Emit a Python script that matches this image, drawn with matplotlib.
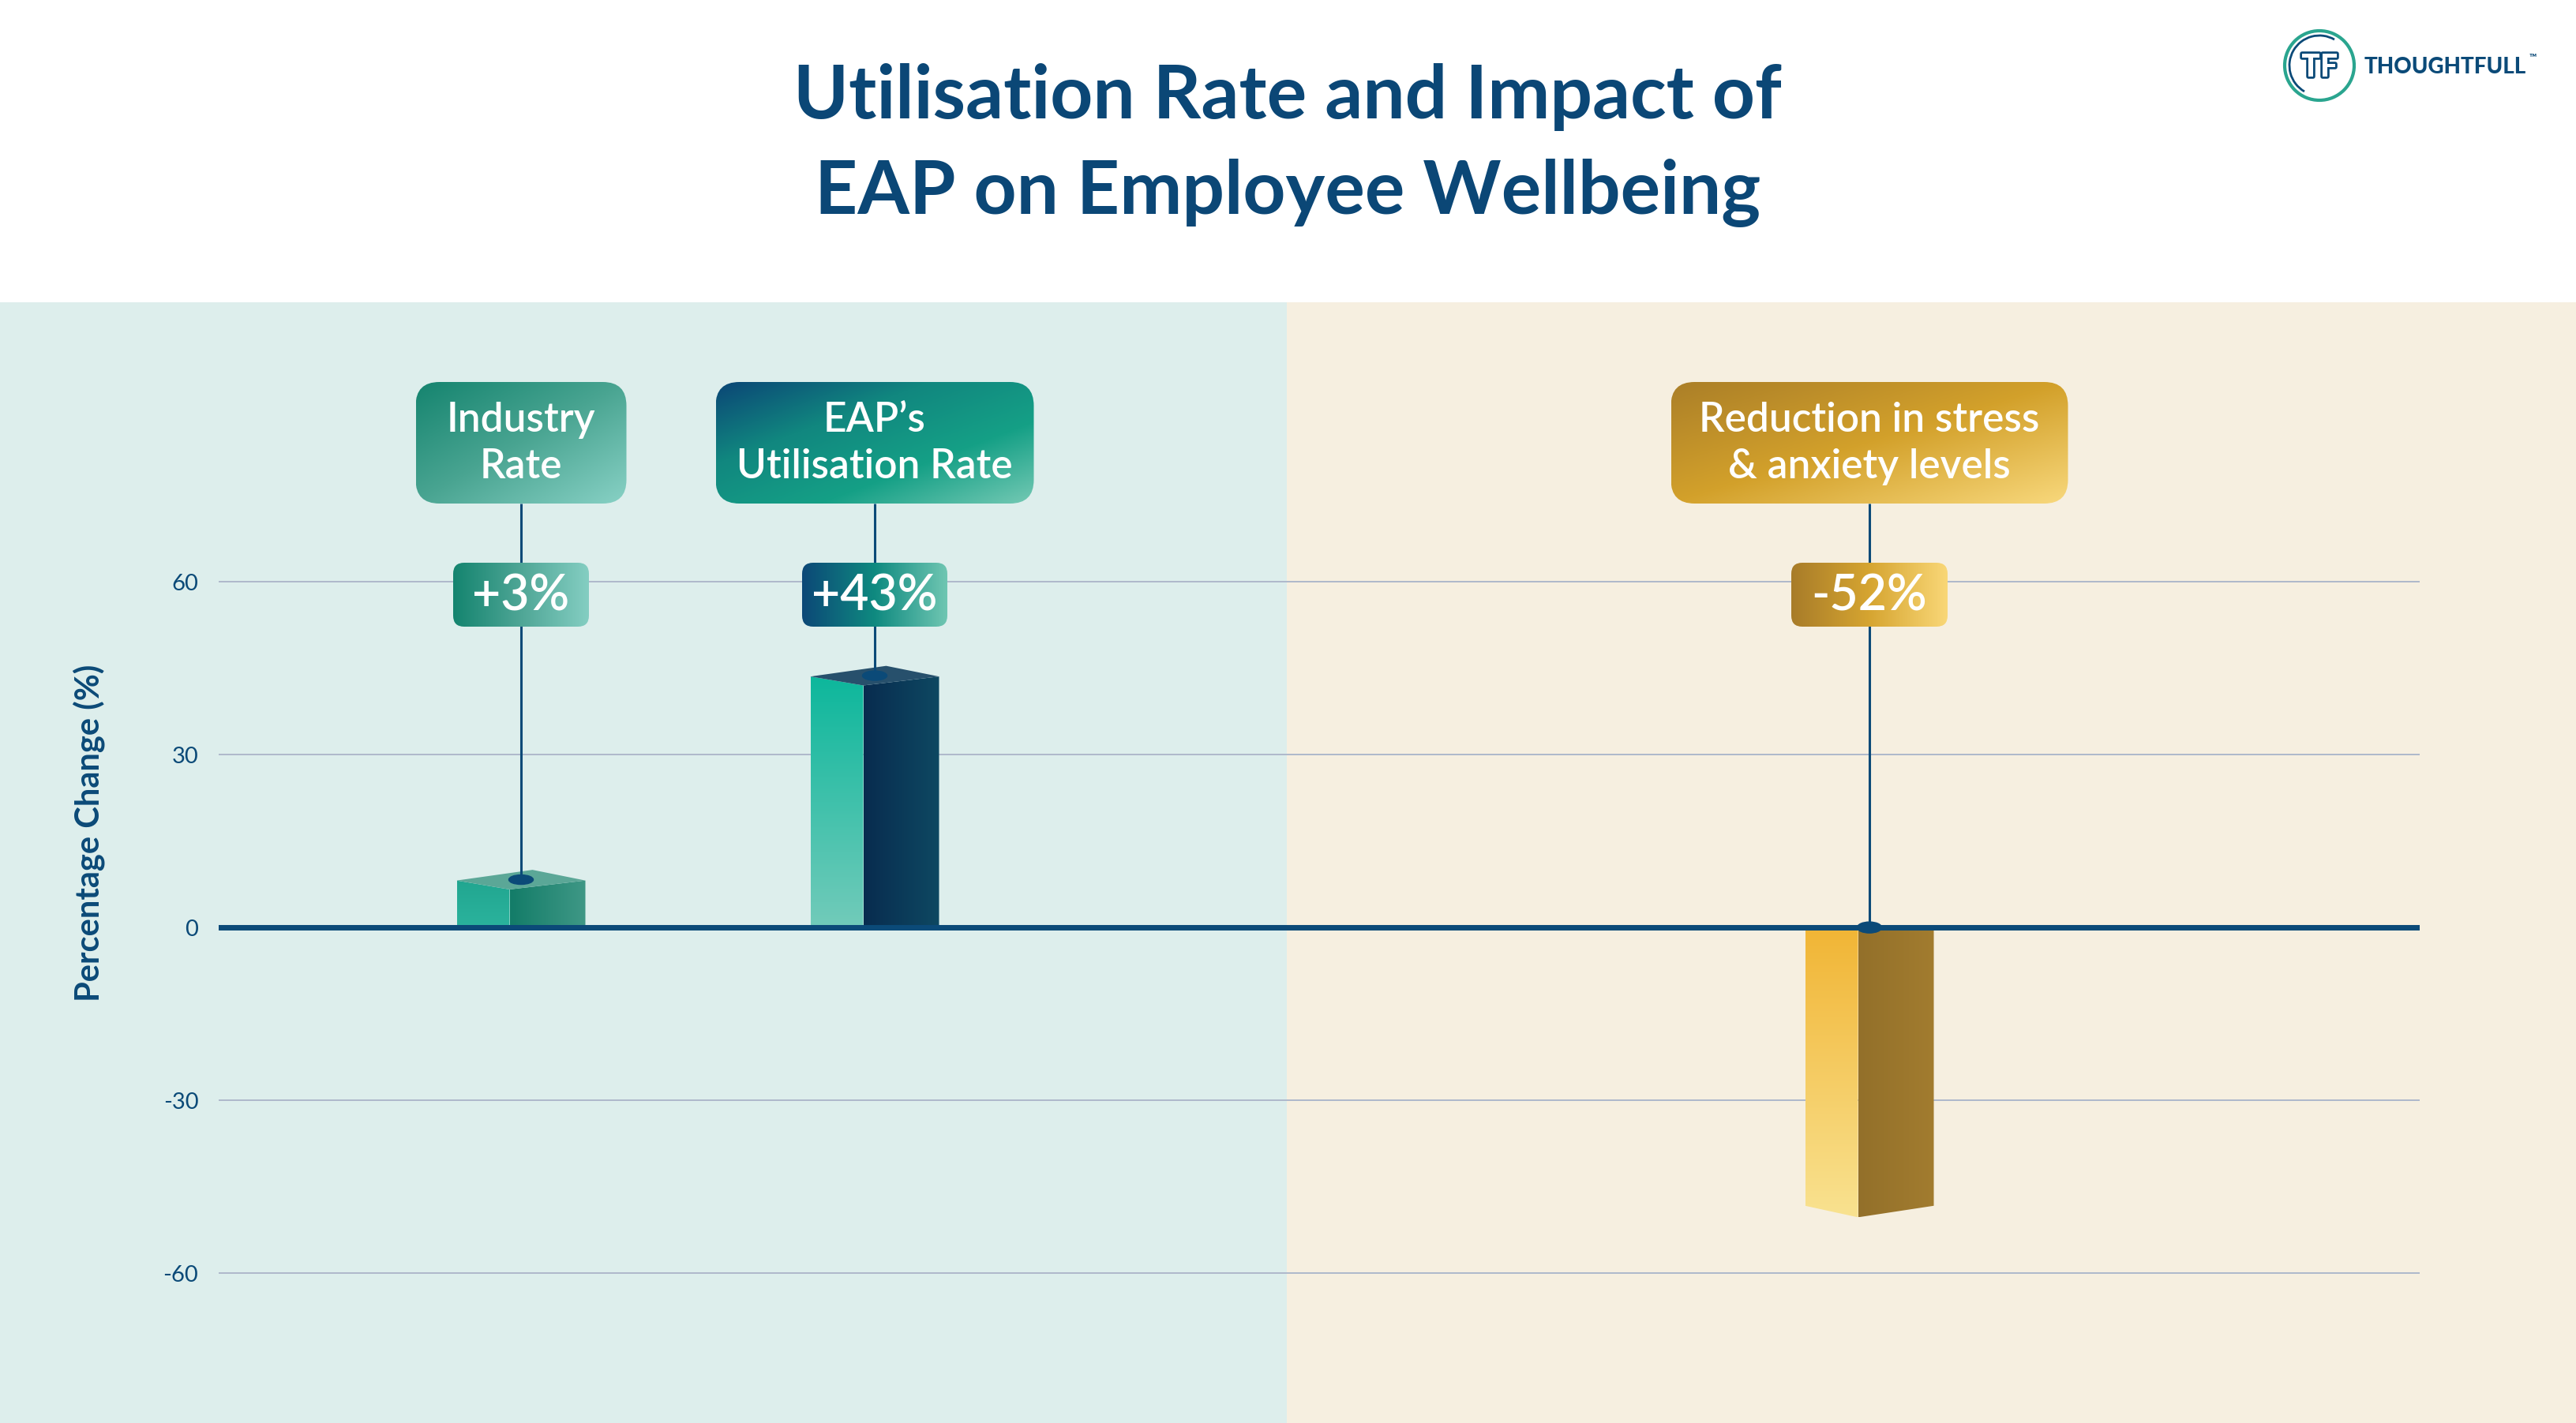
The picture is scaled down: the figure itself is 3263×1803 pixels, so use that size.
import numpy as np
import matplotlib.pyplot as plt
from matplotlib.patches import Polygon, FancyBboxPatch, Rectangle, Ellipse, Arc
from matplotlib.colors import LinearSegmentedColormap
import matplotlib.patheffects as pe

plt.rcParams['font.family'] = ['Lato', 'DejaVu Sans']

# === Chart data ===
title_lines = ['Utilisation Rate and Impact of', 'EAP on Employee Wellbeing']
categories = ['Industry\nRate', 'EAP\u2019s\nUtilisation Rate', 'Reduction in stress\n& anxiety levels']
value_labels = ['+3%', '+43%', '-52%']
bar_heights = [6.6, 42, -50.3]   # heights of the boxes as drawn in the picture
y_ticks = [-60, -30, 0, 30, 60]
y_label = 'Percentage Change (%)'
brand = 'THOUGHTFULL'

# === Layout (pixels of the 3263 x 1803 canvas) ===
W, H, DPI = 3263, 1803, 100
NAVY = '#0b4a78'
panel_top, panel_split = 383, 1630
ax_left, ax_right = 277, 3065
y_lo, y_hi = -86, 108.5
bar_x = [3.83, 8.31, 20.91]          # axis units, 1 unit = 100 px
half_w, front_off, back_off = 0.815, -0.145, 0.145
box_w = [267, 403, 503]
vbox_w = [172, 184, 198]
box_top, box_bot = 484, 638
vbox_top, vbox_bot = 713, 794

styles = [
    dict(left=['#21a690', '#2bb39d'], right=['#137c68', '#3f9886'], top='#5ba797',
         box=['#15846f', '#4aa592', '#88d1c5'], vbox=['#14846f', '#4fa696', '#84cec2']),
    dict(left=['#0db79c', '#72cbba'], right=['#082c4f', '#0e4862'], top='#27506c',
         box=['#0b4676', '#11877f', '#15a086', '#74c9b4'], vbox=['#0c4877', '#0f8a80', '#6fc6b2']),
    dict(left=['#f1b535', '#f9e290'], right=['#93702a', '#a27c2f'], top=None,
         box=['#ab7f28', '#d3a12b', '#f8d87c'], vbox=['#a87c29', '#d6a531', '#f9d777']),
]


def grad(axis, patch, extent, colors, kind):
    # row 0 of the array is always the screen top
    u = np.linspace(0, 1, 256)
    if kind == 'h':
        arr = np.tile(u, (2, 1))
    elif kind == 'v':
        arr = np.tile(u[:, None], (1, 2))
    else:
        arr = (u[None, :] + u[:, None]) / 2
    cmap = LinearSegmentedColormap.from_list('g', colors)
    im = axis.imshow(arr, cmap=cmap, extent=extent, origin='upper', aspect='auto',
                     interpolation='bilinear', zorder=patch.get_zorder())
    im.set_clip_path(patch)


fig = plt.figure(figsize=(W / DPI, H / DPI), dpi=DPI)
fig.patch.set_facecolor('white')

# background panels
bg = fig.add_axes([0, 0, 1, 1])
bg.set_xlim(0, W)
bg.set_ylim(H, 0)
bg.axis('off')
bg.add_patch(Rectangle((0, panel_top), panel_split, H - panel_top, color='#ddeeec', lw=0))
bg.add_patch(Rectangle((panel_split, panel_top), W - panel_split, H - panel_top, color='#f6efe0', lw=0))

# main chart axes
ax = fig.add_axes([ax_left / W, 0, (ax_right - ax_left) / W, (H - panel_top) / H])
ax.patch.set_alpha(0)
ax.set_xlim(0, (ax_right - ax_left) / 100)
ax.set_ylim(y_lo, y_hi)
for s in ax.spines.values():
    s.set_visible(False)
ax.set_xticks([])
ax.set_yticks(y_ticks)
ax.set_yticklabels([str(t) for t in y_ticks])
ax.tick_params(axis='y', length=0, pad=18.5, labelsize=21, labelcolor=NAVY)
ax.yaxis.grid(True, color='#aeb8cb', linewidth=1.4, zorder=0)
ax.set_axisbelow(True)
ax.axhline(0, color=NAVY, linewidth=5, zorder=5)

# 3D-looking bars
dot_pos = []
for c, h, st in zip(bar_x, bar_heights, styles):
    xl, xf, xr = c - half_w, c + front_off, c + half_w
    rise = 1.55 if h > 0 else 2.0
    left = Polygon([(xl, 0), (xf, 0), (xf, h), (xl, h + rise)], closed=True,
                   fc='none', ec='none', zorder=2)
    right = Polygon([(xf, 0), (xr, 0), (xr, h + rise), (xf, h)], closed=True,
                    fc='none', ec='none', zorder=2)
    ax.add_patch(left)
    ax.add_patch(right)
    ylo, yhi = min(0, h), max(0, h + rise)
    grad(ax, left, (xl, xf, ylo, yhi), st['left'], 'v')
    grad(ax, right, (xf, xr, ylo, yhi), st['right'], 'h')
    if h > 0:
        ax.add_patch(Polygon([(xl, h + rise), (xf, h), (xr, h + rise), (c + back_off, h + 3.4)],
                             closed=True, fc=st['top'], ec='none', zorder=3))
        dot_pos.append((c, h + 1.7))
    else:
        dot_pos.append((c, 0))

fig.canvas.draw()

# annotation overlay in pixel coordinates
ov = fig.add_axes([0, 0, 1, 1])
ov.set_xlim(0, W)
ov.set_ylim(H, 0)
ov.axis('off')
ov.patch.set_alpha(0)

for i, (cat, val, st) in enumerate(zip(categories, value_labels, styles)):
    dx, dy = ax.transData.transform(dot_pos[i])
    dy = H - dy
    cx = dx
    # leader line and dot
    ov.plot([cx, cx], [box_bot, dy], color=NAVY, lw=2.2, zorder=1, solid_capstyle='butt')
    ov.add_patch(Ellipse((cx, dy), 31, 12 if bar_heights[i] > 0 else 14, color=NAVY, zorder=2))

    # category label box
    bw = box_w[i]
    b = FancyBboxPatch((cx - bw / 2, box_top), bw, box_bot - box_top,
                       boxstyle='round,pad=0,rounding_size=30', fc='none', ec='none', zorder=3)
    ov.add_patch(b)
    grad(ov, b, (cx - bw / 2, cx + bw / 2, box_bot, box_top), st['box'], 'd')
    ov.text(cx, (box_top + box_bot) / 2 + 1, cat, ha='center', va='center', color='white',
            fontsize=37, fontweight='semibold', linespacing=1.32, zorder=4)

    # value label box
    vw = vbox_w[i]
    v = FancyBboxPatch((cx - vw / 2, vbox_top), vw, vbox_bot - vbox_top,
                       boxstyle='round,pad=0,rounding_size=14', fc='none', ec='none', zorder=3)
    ov.add_patch(v)
    grad(ov, v, (cx - vw / 2, cx + vw / 2, vbox_bot, vbox_top), st['vbox'], 'h')
    ov.text(cx, (vbox_top + vbox_bot) / 2 + 2, val, ha='center', va='center', color='white',
            fontsize=45, fontweight='semibold', zorder=4)

# title and axis label
for txt, yy in zip(title_lines, [123, 244]):
    fig.text(1631 / W, 1 - yy / H, txt, ha='center', va='center', fontsize=68,
             fontweight='bold', color='#0b4776')
fig.text(113 / W, 1 - 1055 / H, y_label, rotation=90, ha='center', va='center',
         fontsize=30, fontweight='bold', color=NAVY)

# logo
lc = (2938, 83)
ov.add_patch(Arc(lc, 88, 88, theta1=0, theta2=360, color='#2aa58f', lw=3))
ov.add_patch(Arc(lc, 76, 76, theta1=120, theta2=300, color=NAVY, lw=2))
ov.text(lc[0], lc[1] + 2, 'TF', ha='center', va='center', fontsize=28, fontweight='black',
        color='white', path_effects=[pe.withStroke(linewidth=4, foreground=NAVY)])
ov.text(2995, 85, brand, ha='left', va='center', fontsize=20, fontweight='black', color=NAVY)
ov.text(3203, 72, '\u2122', ha='left', va='center', fontsize=9, fontweight='bold', color=NAVY)

fig.savefig('out.png', dpi=DPI)
